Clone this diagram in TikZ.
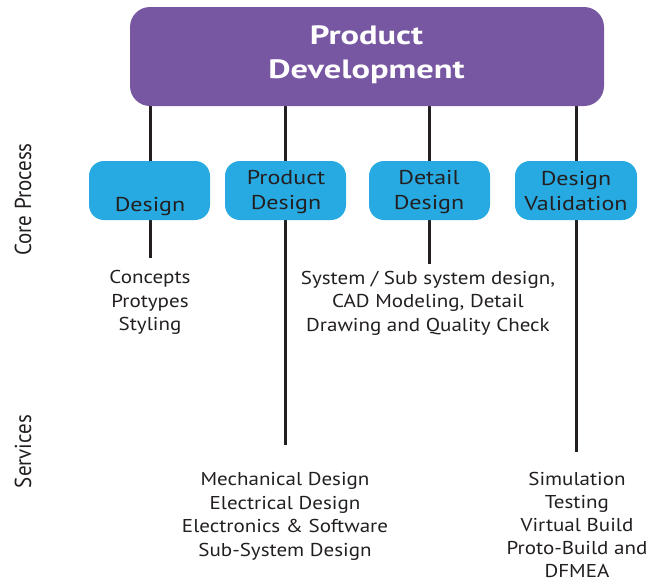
\documentclass[tikz,border=0pt]{standalone}
\usepackage{fontspec}
\usepackage{graphicx}
\setmainfont{PT Sans}
\newcommand\sx[1]{\scalebox{1.13}[1]{#1}}
\newcommand\bx[1]{\scalebox{1.2}[1]{#1}}
\newcommand\tx[1]{\scalebox{1.3}[1]{#1}}
\begin{document}
\begin{tikzpicture}[x=1pt,y=-1pt,
  line/.style={line width=3pt,inkc},
  topbox/.style={fill=purple1,rounded corners=20pt},
  corebox/.style={fill=blue1,rounded corners=15pt},
  boxtext/.style={font=\fontsize{20}{25}\selectfont,align=center,text=inkc,anchor=base,inner sep=0pt},
  svctext/.style={font=\fontsize{18.6}{23.4}\selectfont,align=center,text=inkc,anchor=base,inner sep=0pt},
  sidetext/.style={font=\fontsize{21}{24}\selectfont,rotate=90,text=inkc,anchor=base,inner sep=0pt}]
\definecolor{purple1}{HTML}{7857A2}
\definecolor{blue1}{HTML}{27AAE1}
\definecolor{inkc}{HTML}{231F20}
\useasboundingbox (0,0) rectangle (648,581);
% connector end points
\coordinate (l1t) at (150,106); \coordinate (l1b) at (150,258);
\coordinate (l2t) at (285,106); \coordinate (l2b) at (285,445);
\coordinate (l3t) at (429,106); \coordinate (l3b) at (429,264);
\coordinate (l4t) at (576,106); \coordinate (l4b) at (576,452);
\draw[line] (l1t) -- (l1b);
\draw[line] (l2t) -- (l2b);
\draw[line] (l3t) -- (l3b);
\draw[line] (l4t) -- (l4b);
% top box
\fill[topbox] (130,7) rectangle (604,106);
\node[font=\bfseries\fontsize{26.5}{34}\selectfont,text=white,align=center,anchor=base,inner sep=0pt] (top) at (366.5,78) {\tx{Product}\\\tx{Development}};
% core boxes
\fill[corebox] (89,161) rectangle (210,220);
\fill[corebox] (225,161) rectangle (346,220);
\fill[corebox] (369,161) rectangle (490,220);
\fill[corebox] (515,161) rectangle (637,220);
\node[boxtext] (d1) at (150,211) {\bx{Design}};
\node[boxtext] (d2) at (286,209) {\bx{Product}\\\bx{Design}};
\node[boxtext] (d3) at (429,209) {\bx{Detail}\\\bx{Design}};
\node[boxtext] (d4) at (576,210.5) {\bx{Design}\\\bx{Validation}};
% service texts
\node[svctext] (s1) at (150,330.5) {\sx{Concepts}\\\sx{Protypes}\\\sx{Styling}};
\node[svctext] (s3) at (428,331) {\sx{System / Sub system design,}\\\sx{CAD Modeling, Detail}\\\sx{Drawing and Quality Check}};
\node[svctext] (s2) at (285,556) {\sx{Mechanical Design}\\\sx{Electrical Design}\\\sx{Electronics \& Software}\\\sx{Sub-System Design}};
\node[svctext,font=\fontsize{18.6}{23}\selectfont] (s4) at (577,577) {\sx{Simulation}\\\sx{Testing}\\\sx{Virtual Build}\\\sx{Proto-Build and}\\\sx{DFMEA}};
% side labels
\node[sidetext] (core) at (31,199.5) {\scalebox{1}[1.1]{Core Process}};
\node[sidetext] (serv) at (31,451.5) {\scalebox{1}[1.1]{Services}};
\end{tikzpicture}
\end{document}
